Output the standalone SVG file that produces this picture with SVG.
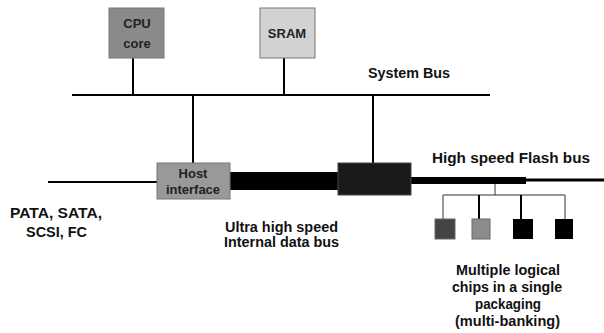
<svg xmlns="http://www.w3.org/2000/svg" width="604" height="333" viewBox="0 0 604 333">
<style>
.t{font-family:"Liberation Sans",Arial,sans-serif;font-weight:bold;font-size:14px;fill:#111}
.bt{font-family:"Liberation Sans",Arial,sans-serif;font-weight:bold;font-size:13px;fill:#222}
.ln{stroke:#000;stroke-width:2;fill:none}
.thin{stroke:#333;stroke-width:1;fill:none}
.box{stroke:#777;stroke-width:1}
</style>
<rect width="604" height="333" fill="#fff"/>
<g id="connectors">
<line class="ln" x1="72" y1="95" x2="490" y2="95"/>
<line class="ln" x1="133" y1="58" x2="133" y2="95"/>
<line class="ln" x1="284" y1="58" x2="284" y2="95"/>
<line class="ln" x1="193" y1="95" x2="193" y2="163"/>
<line class="ln" x1="373" y1="95" x2="373" y2="163"/>
<line class="ln" x1="48" y1="182" x2="157" y2="182"/>
<rect x="230" y="172" width="108" height="18" fill="#000"/>
<rect x="411" y="177" width="115" height="7" fill="#000"/>
<line x1="526" y1="180" x2="604" y2="180" stroke="#000" stroke-width="3"/>
<line class="thin" x1="495" y1="184" x2="495" y2="195"/>
<line class="thin" x1="443" y1="195" x2="565" y2="195"/>
<line class="thin" x1="443" y1="195" x2="443" y2="219"/>
<line class="ln" x1="479" y1="195" x2="479" y2="219"/>
<line class="ln" x1="521" y1="195" x2="521" y2="219"/>
<line class="thin" x1="565" y1="195" x2="565" y2="219"/>
</g>
<g id="cpu">
<rect class="box" x="109" y="8" width="55" height="50" fill="#8a8a8a"/>
<text class="bt" x="137" y="28" text-anchor="middle" fill="#333">CPU</text>
<text class="bt" x="137" y="48" text-anchor="middle" fill="#333">core</text>
</g>
<g id="sram">
<rect class="box" x="260" y="8" width="55" height="50" fill="#d2d2d2"/>
<text class="bt" x="287" y="38" text-anchor="middle" fill="#111">SRAM</text>
</g>
<g id="host">
<rect class="box" x="157" y="163" width="73" height="36" fill="#999"/>
<text class="bt" x="193" y="178" text-anchor="middle" font-size="11" fill="#555">Host</text>
<text class="bt" x="193" y="194" text-anchor="middle" font-size="11" fill="#555">interface</text>
</g>
<g id="flashctl">
<rect x="338" y="163" width="73" height="32" fill="#1a1a1a" stroke="#444"/>
</g>
<g id="chip1"><rect x="435" y="219" width="20" height="20" fill="#444" stroke="#666"/></g>
<g id="chip2"><rect x="472" y="219" width="18" height="20" fill="#8c8c8c" stroke="#666"/></g>
<g id="chip3"><rect x="513" y="219" width="20" height="20" fill="#000"/></g>
<g id="chip4"><rect x="555" y="219" width="18" height="20" fill="#000"/></g>
<g id="labels">
<text class="t" x="368" y="78" textLength="82" lengthAdjust="spacingAndGlyphs">System Bus</text>
<text class="t" x="432" y="163" font-size="15" textLength="158" lengthAdjust="spacingAndGlyphs">High speed Flash bus</text>
<text class="t" x="10" y="218" font-size="16" textLength="92" lengthAdjust="spacingAndGlyphs">PATA, SATA,</text>
<text class="t" x="26" y="237" font-size="16" textLength="61" lengthAdjust="spacingAndGlyphs">SCSI, FC</text>
<text class="t" x="225" y="232" textLength="113" lengthAdjust="spacingAndGlyphs">Ultra high speed</text>
<text class="t" x="224" y="247" textLength="115" lengthAdjust="spacingAndGlyphs">Internal data bus</text>
<text class="t" x="456" y="275" textLength="104" lengthAdjust="spacingAndGlyphs">Multiple logical</text>
<text class="t" x="452" y="292" textLength="110" lengthAdjust="spacingAndGlyphs">chips in a single</text>
<text class="t" x="475" y="309" textLength="66" lengthAdjust="spacingAndGlyphs">packaging</text>
<text class="t" x="455" y="326" textLength="105" lengthAdjust="spacingAndGlyphs">(multi-banking)</text>
</g>
</svg>
